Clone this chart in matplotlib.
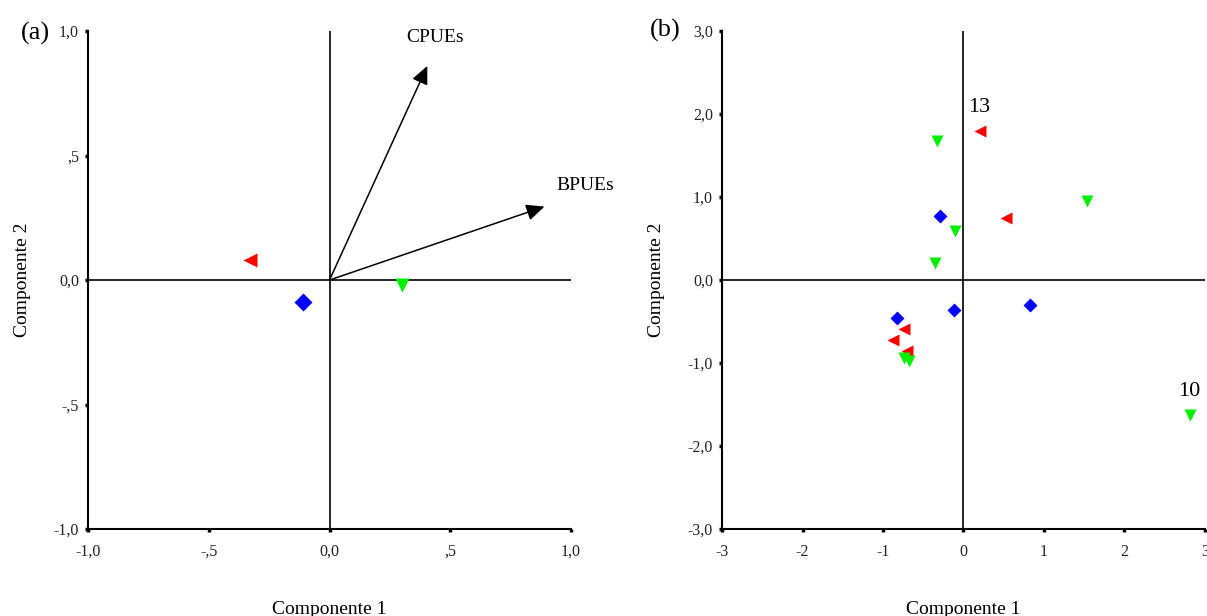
import numpy as np
import matplotlib.pyplot as plt

plt.rcParams['font.family'] = ['Liberation Serif', 'DejaVu Serif']
plt.rcParams['axes.unicode_minus'] = False

# panel (a): loadings + group centroids
vec_names = ["CPUEs", "BPUEs"]
vec_x = [0.405, 0.89]
vec_y = [0.86, 0.295]

a_red = ([-0.33], [0.08])
a_green = ([0.30], [-0.02])
a_blue = ([-0.11], [-0.09])

a_ticks = [-1.0, -0.5, 0.0, 0.5, 1.0]
a_ticklabels = ["-1,0", "-,5", "0,0", ",5", "1,0"]

# panel (b): scores
b_red_x = [0.20, 0.53, -0.74, -0.87, -0.70]
b_red_y = [1.79, 0.75, -0.59, -0.72, -0.86]
b_green_x = [-0.33, -0.10, -0.35, 1.54, -0.74, -0.68, 2.81]
b_green_y = [1.68, 0.59, 0.20, 0.95, -0.94, -0.98, -1.63]
b_blue_x = [-0.29, -0.12, 0.83, -0.83]
b_blue_y = [0.77, -0.36, -0.30, -0.46]

b_labels = ["13", "10"]
b_label_x = [0.20, 2.81]
b_label_y = [1.79, -1.63]

b_xticks = [-3, -2, -1, 0, 1, 2, 3]
b_xticklabels = ["-3", "-2", "-1", "0", "1", "2", "3"]
b_yticks = [-3.0, -2.0, -1.0, 0.0, 1.0, 2.0, 3.0]
b_yticklabels = ["-3,0", "-2,0", "-1,0", "0,0", "1,0", "2,0", "3,0"]

RED = "#ff0000"
GREEN = "#00ee00"
BLUE = "#0000ff"

fig = plt.figure(figsize=(12.07, 6.16), dpi=100)
ax1 = fig.add_axes([0.0729, 0.1412, 0.4002, 0.8084])
ax2 = fig.add_axes([0.5982, 0.1412, 0.4001, 0.8084])


def style(ax):
    for s in ["top", "right"]:
        ax.spines[s].set_visible(False)
    for s in ["left", "bottom"]:
        ax.spines[s].set_linewidth(1.5)
    ax.tick_params(direction="out", length=2.5, width=2.5, labelsize=11.5)
    ax.tick_params(axis="x", pad=8)
    ax.tick_params(axis="y", pad=4)
    ax.axhline(0, color="k", lw=1.2, zorder=1)
    ax.axvline(0, color="k", lw=1.2, zorder=1)
    ax.set_xlabel("Componente 1", fontsize=14, labelpad=30)
    ax.set_ylabel("Componente 2", fontsize=14, labelpad=16)
    for t in ax.get_xticklabels() + ax.get_yticklabels():
        t.set_color("#222222")


# (a)
ax1.set_xlim(-1, 1)
ax1.set_ylim(-1, 1)
ax1.set_xticks(a_ticks)
ax1.set_xticklabels(a_ticklabels)
ax1.set_yticks(a_ticks)
ax1.set_yticklabels(a_ticklabels)
style(ax1)
for name, vx, vy in zip(vec_names, vec_x, vec_y):
    ax1.annotate("", xy=(vx, vy), xytext=(0, 0),
                 arrowprops=dict(arrowstyle="-|>,head_length=1.1,head_width=0.5",
                                 color="k", lw=1.1, shrinkA=0, shrinkB=0))
ax1.text(vec_x[0] + 0.03, vec_y[0] + 0.08, vec_names[0], fontsize=14, ha="center", va="bottom")
ax1.text(vec_x[1] + 0.17, vec_y[1] + 0.05, vec_names[1], fontsize=14, ha="center", va="bottom")
ax1.plot(*a_red, "<", color=RED, ms=10, mec="none", zorder=3)
ax1.plot(*a_green, "v", color=GREEN, ms=10, mec="none", zorder=3)
ax1.plot(*a_blue, "D", color=BLUE, ms=9, mec="none", zorder=3)
fig.text(35 / 1207, 1 - 33 / 616, "(a)", fontsize=19, ha="center", va="center")

# (b)
ax2.set_xlim(-3, 3)
ax2.set_ylim(-3, 3)
ax2.set_xticks(b_xticks)
ax2.set_xticklabels(b_xticklabels)
ax2.set_yticks(b_yticks)
ax2.set_yticklabels(b_yticklabels)
style(ax2)
ax2.plot(b_red_x, b_red_y, "<", color=RED, ms=9, mec="none", ls="none", zorder=3)
ax2.plot(b_green_x, b_green_y, "v", color=GREEN, ms=9, mec="none", ls="none", zorder=3)
ax2.plot(b_blue_x, b_blue_y, "D", color=BLUE, ms=7, mec="none", ls="none", zorder=3)
for lab, lx, ly in zip(b_labels, b_label_x, b_label_y):
    ax2.text(lx, ly + 0.17, lab, fontsize=16, ha="center", va="bottom")
fig.text(665 / 1207, 1 - 30 / 616, "(b)", fontsize=19, ha="center", va="center")

fig.savefig("out.png", dpi=100)
